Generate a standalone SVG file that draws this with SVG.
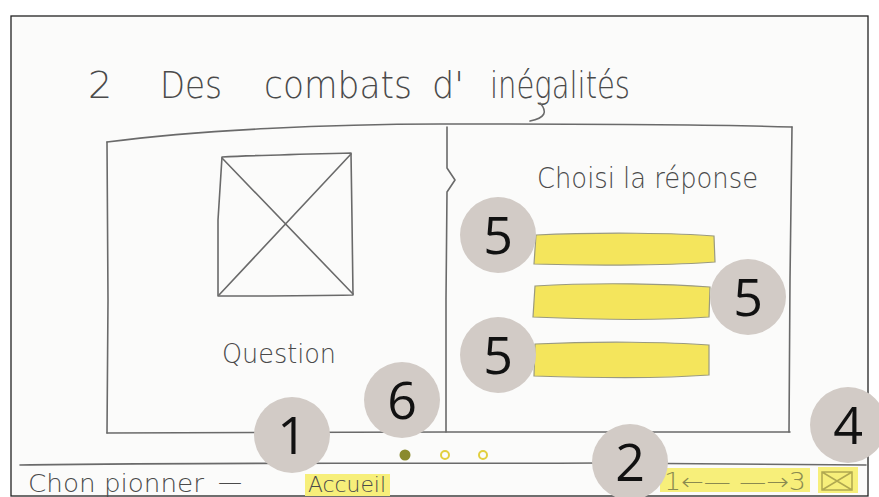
<svg xmlns="http://www.w3.org/2000/svg" width="879" height="497" viewBox="0 0 879 497">
<defs>
<style>
.sk{fill:none;stroke:#6a6a6a;stroke-width:1.6;stroke-linecap:round;stroke-linejoin:round}
.hw{font-family:"DejaVu Sans","Liberation Sans",sans-serif;fill:#4a4a4a;font-weight:300}
.bar{fill:#f4e55c;stroke:#9a9a80;stroke-width:1.2}
.badge circle{fill:#d2cbc6}
.badge text{font-family:"Open Sans","Noto Sans",sans-serif;font-size:52px;fill:#111;text-anchor:middle}
.hl{fill:#f7ef7a}
</style>
</defs>
<rect x="0" y="0" width="879" height="497" fill="#ffffff"/>
<rect id="frame" x="11" y="16" width="857" height="480" fill="#fbfbfa" stroke="#222" stroke-width="1.3"/>

<g id="title">
<text class="hw" x="88" y="98" font-size="38">2</text>
<text class="hw" x="160" y="98" font-size="38" textLength="62" lengthAdjust="spacingAndGlyphs">Des</text>
<text class="hw" x="264" y="98" font-size="38" textLength="148" lengthAdjust="spacingAndGlyphs">combats</text>
<text class="hw" x="432" y="98" font-size="38" textLength="32" lengthAdjust="spacingAndGlyphs">d'</text>
<text class="hw" x="490" y="98" font-size="38" textLength="140" lengthAdjust="spacingAndGlyphs">inégalités</text>
<path class="sk" d="M540 103 C548 112 545 118 530 121"/>
</g>

<g id="panel">
<path class="sk" d="M107 142 C200 130 330 124 440 124 C560 124 700 124 792 127"/>
<path class="sk" d="M107 142 L108 300 L107 433"/>
<path class="sk" d="M107 433 C250 432 350 433 447 432 C600 432 700 431 790 432"/>
<path class="sk" d="M792 127 L790 280 L789 432"/>
<path class="sk" d="M447 127 L447 168 L455 180 L447 192 L446 300 L446 432"/>
</g>

<g id="question">
<path class="sk" d="M222 157 C260 155 310 154 351 153 L352 220 L353 295 C300 296 260 296 218 296 L218 220 Z"/>
<path class="sk" d="M222 158 L353 294 M351 154 L219 295"/>
<text class="hw" x="222" y="363" font-size="26" textLength="114" lengthAdjust="spacingAndGlyphs">Question</text>
</g>

<g id="answers">
<text class="hw" x="537" y="188" font-size="28" textLength="221" lengthAdjust="spacingAndGlyphs">Choisi la réponse</text>
<path class="bar" d="M536 235 C600 232 680 233 714 236 L715 262 C680 265 600 266 534 264 Z"/>
<path class="bar" d="M535 286 C600 282 670 284 710 287 L709 317 C670 320 600 320 533 317 Z"/>
<path class="bar" d="M535 344 C600 341 670 342 709 345 L709 375 C670 378 600 378 534 376 Z"/>
</g>

<g id="pager">
<circle cx="405" cy="455" r="5.5" fill="#8a8a2e"/>
<circle cx="445" cy="455" r="4" fill="none" stroke="#e2cf3e" stroke-width="2"/>
<circle cx="483" cy="455" r="4" fill="none" stroke="#e2cf3e" stroke-width="2"/>
</g>

<g id="footer">
<path class="sk" d="M20 465 C200 462 400 464 600 463 C700 463 800 464 866 465"/>
<rect class="hl" x="305" y="474" width="85" height="22"/>
<rect class="hl" x="660" y="468" width="150" height="24"/>
<rect class="hl" x="818" y="467" width="40" height="26"/>
<text class="hw" x="28" y="492" font-size="24" textLength="176" lengthAdjust="spacingAndGlyphs">Chon pionner</text>
<text class="hw" x="218" y="490" font-size="24">—</text>
<text class="hw" x="308" y="492" font-size="22" fill="#7a7a30" textLength="78" lengthAdjust="spacingAndGlyphs">Accueil</text>
<text class="hw" x="664" y="490" font-size="24" textLength="142" lengthAdjust="spacingAndGlyphs" style="fill:#8a8a50">1←— —→3</text>
<path d="M822 472 L852 472 L852 490 L822 490 Z M822 472 L852 490 M852 472 L822 490" fill="none" stroke="#b0a850" stroke-width="1.5"/>
</g>

<g id="badge-5a" class="badge"><circle cx="498" cy="235" r="38"/><text x="498" y="254">5</text></g>
<g id="badge-5b" class="badge"><circle cx="748" cy="297" r="38"/><text x="748" y="316">5</text></g>
<g id="badge-5c" class="badge"><circle cx="498" cy="355" r="38"/><text x="498" y="374">5</text></g>
<g id="badge-6" class="badge"><circle cx="402" cy="400" r="38"/><text x="402" y="419">6</text></g>
<g id="badge-1" class="badge"><circle cx="292" cy="435" r="38"/><text x="292" y="454">1</text></g>
<g id="badge-2" class="badge"><circle cx="630" cy="462" r="38"/><text x="630" y="481">2</text></g>
<g id="badge-4" class="badge"><circle cx="848" cy="425" r="38"/><text x="848" y="444">4</text></g>
</svg>
